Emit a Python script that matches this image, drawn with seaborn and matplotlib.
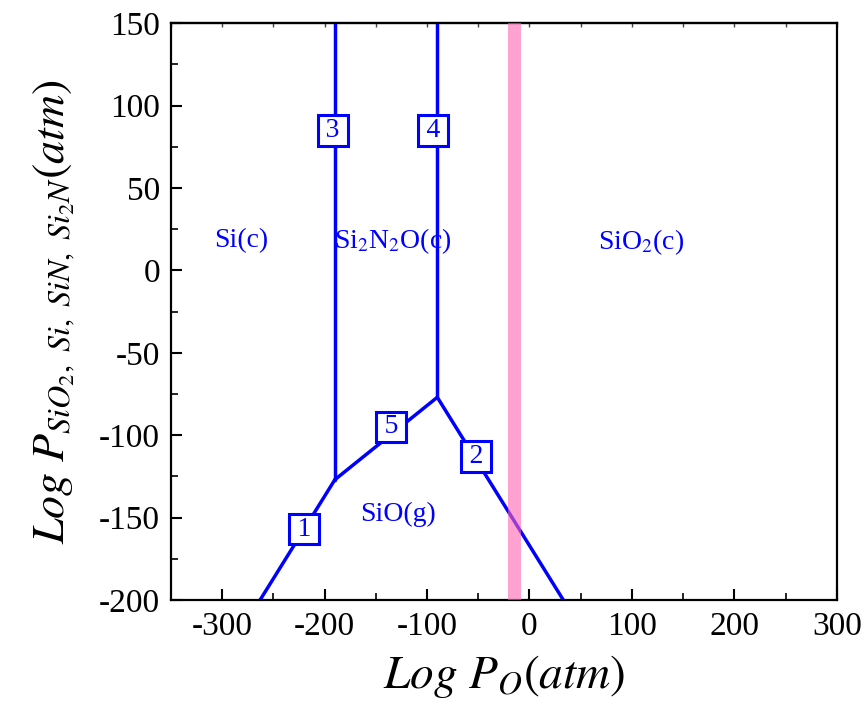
import numpy as np
import pandas as pd
import matplotlib
matplotlib.use("Agg")
import matplotlib.pyplot as plt
from matplotlib.ticker import MultipleLocator
import seaborn as sns

# Phase boundaries of the Si–N–O predominance diagram (log P_O vs log P)
boundary_ids = ["1", "1", "5", "5", "2", "2", "3", "3", "4", "4"]
log_po = [-263, -190, -190, -90, -90, 33, -190, -190, -90, -90]
log_p = [-200, -127, -127, -77, -77, -200, -127, 150, -77, 150]

# Boundary number tags
tag_text = ["1", "2", "3", "4", "5"]
tag_x = [-220, -52, -192, -94, -135]
tag_y = [-157, -113, 85, 85, -95]

# Stable-phase region names
region_text = ["Si(c)", r"Si$_2$N$_2$O(c)", r"SiO$_2$(c)", "SiO(g)"]
region_x = [-281, -134, 109, -128]
region_y = [18, 18, 17, -148]

# Highlighted oxygen pressure window
band_lo, band_hi = -20.5, -8.5

x_limits = (-350, 300)
y_limits = (-200, 150)

sns.set_theme(style="ticks")
plt.rcParams["font.family"] = ["Liberation Serif", "DejaVu Serif"]
plt.rcParams["mathtext.fontset"] = "stix"
plt.rcParams["axes.unicode_minus"] = False
plt.rcParams["xtick.color"] = "black"
plt.rcParams["ytick.color"] = "black"
plt.rcParams["text.color"] = "black"
plt.rcParams["axes.labelcolor"] = "black"

df = pd.DataFrame({"boundary": boundary_ids, "x": log_po, "y": log_p})

fig = plt.figure(figsize=(8.68, 7.05), dpi=100)
ax = fig.add_axes([0.197, 0.149, 0.767, 0.818])

sns.lineplot(data=df, x="x", y="y", units="boundary", estimator=None,
             sort=False, color="#0000FF", linewidth=2.5, ax=ax, legend=False)

ax.axvspan(band_lo, band_hi, color="#FF64B4", alpha=0.6, lw=0, zorder=5)

for t, x, y in zip(tag_text, tag_x, tag_y):
    ax.text(x, y, "\u2009" + t + "\u2009", ha="center", va="center",
            fontsize=20, color="#0000FF", zorder=6,
            bbox=dict(boxstyle="square,pad=0.1", fc="white", ec="#0000FF", lw=2.2))

for t, x, y in zip(region_text, region_x, region_y):
    ax.text(x, y, t, ha="center", va="center", fontsize=20, color="#0000FF",
            zorder=6, math_fontfamily="stix")

ax.set_xlim(*x_limits)
ax.set_ylim(*y_limits)
ax.xaxis.set_major_locator(MultipleLocator(100))
ax.xaxis.set_minor_locator(MultipleLocator(50))
ax.yaxis.set_major_locator(MultipleLocator(50))
ax.yaxis.set_minor_locator(MultipleLocator(25))

ax.tick_params(which="major", direction="in", length=8, width=1.5,
               labelsize=24, top=False, right=False, pad=8, colors="black")
ax.tick_params(which="minor", direction="in", length=5, width=1.2,
               top=False, right=False, colors="black")

top = ax.secondary_xaxis("top")
top.xaxis.set_major_locator(MultipleLocator(50))
top.tick_params(direction="in", length=3, width=1, labeltop=False, color="#444444")
top.set_xticklabels([])

for side in ["left", "right", "top", "bottom"]:
    ax.spines[side].set_linewidth(1.6)
    ax.spines[side].set_color("black")
top.spines["top"].set_linewidth(1.6)

ax.set_xlabel(r"$Log\ P_{O}(atm)$", fontsize=34, labelpad=8)
ax.set_ylabel(r"$Log\ P_{SiO_2,\ Si,\ SiN,\ Si_2N}(atm)$", fontsize=33, labelpad=16)

fig.savefig("out.png", dpi=100)
